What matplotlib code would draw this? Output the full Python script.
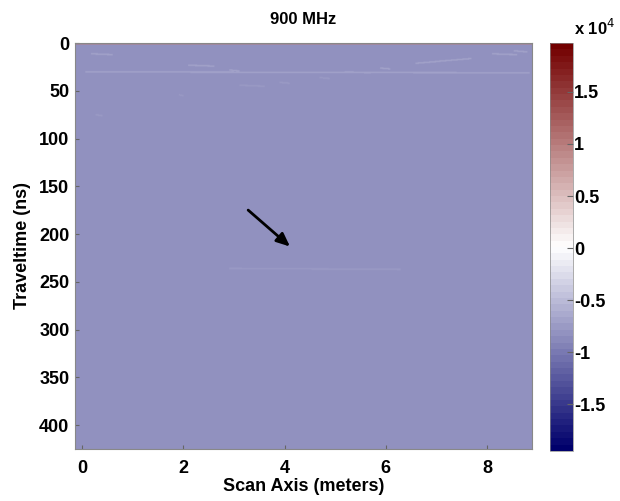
import numpy as np
import matplotlib
matplotlib.use("Agg")
import matplotlib.pyplot as plt
from matplotlib.colors import LinearSegmentedColormap

# ---- data ----
title = "900 MHz"
x_range = [-0.14, 8.89]          # scan axis (meters)
t_range = [0, 425]               # traveltime (ns)
background_value = -0.8e4        # near-uniform amplitude
top_row_value = 1.0e4            # first samples (direct wave)
# faint streaks: (x_start, x_end, t_start, t_end, amplitude)
streaks_x0 = [0.05, 0.16, 2.1, 2.9, 6.6, 8.1, 8.55, 3.1, 3.9, 4.7, 5.2, 5.9, 2.9, 1.9, 0.26]
streaks_x1 = [8.85, 0.6, 2.6, 3.1, 7.7, 8.6, 8.8, 3.6, 4.1, 4.9, 5.7, 6.1, 6.3, 2.0, 0.4]
streaks_t0 = [30, 11, 23, 28, 21, 11, 8, 44, 41, 36, 30, 26, 236, 54, 75]
streaks_t1 = [31, 12, 24, 29, 16, 12, 9, 45, 42, 37, 31, 27, 237, 55, 76]
streaks_val = [-0.68e4, -0.72e4, -0.72e4, -0.72e4, -0.72e4, -0.72e4, -0.72e4,
               -0.73e4, -0.73e4, -0.73e4, -0.72e4, -0.72e4, -0.75e4, -0.74e4, -0.74e4]
clim = [-1.95e4, 1.97e4]
x_ticks = [0, 2, 4, 6, 8]
t_ticks = [0, 50, 100, 150, 200, 250, 300, 350, 400]
cb_ticks = [-1.5e4, -1e4, -0.5e4, 0, 0.5e4, 1e4, 1.5e4]
cb_ticklabels = ["-1.5", "-1", "-0.5", "0", "0.5", "1", "1.5"]
arrow_tail = (3.24, 173)
arrow_head = (4.15, 215)

# ---- build grid ----
nx, nt = 400, 850
xs = np.linspace(x_range[0], x_range[1], nx)
ts = np.linspace(t_range[0], t_range[1], nt)
X, T = np.meshgrid(xs, ts)
grid = np.full((nt, nx), background_value)
grid[T < 1.5] = top_row_value
for x0, x1, ta, tb, v in zip(streaks_x0, streaks_x1, streaks_t0, streaks_t1, streaks_val):
    frac = np.clip((X - x0) / max(x1 - x0, 1e-6), 0, 1)
    tline = ta + (tb - ta) * frac
    mask = (X >= x0) & (X <= x1) & (np.abs(T - tline) < 0.8)
    grid[mask] = v

cmap = LinearSegmentedColormap.from_list(
    "gpr", [(0.0, (0.0, 0.0, 0.42)), (0.5, (1, 1, 1)), (1.0, (0.45, 0.0, 0.0))], N=64)

plt.rcParams['font.family'] = ['Liberation Sans', 'DejaVu Sans']
fig = plt.figure(figsize=(6.2, 5.01), dpi=100)
ax = fig.add_axes([0.121, 0.104, 0.737, 0.810])
cax = fig.add_axes([0.887, 0.100, 0.037, 0.814])

im = ax.imshow(grid, cmap=cmap, vmin=clim[0], vmax=clim[1], aspect='auto',
               extent=[x_range[0], x_range[1], t_range[1], t_range[0]],
               interpolation='bilinear')
ax.set_xlim(x_range)
ax.set_ylim(t_range[1], t_range[0])
ax.set_xticks(x_ticks)
ax.set_yticks(t_ticks)
ax.tick_params(direction='in', length=3, color='#666666', labelsize=13)
ax.tick_params(axis='x', pad=8)
ax.tick_params(axis='y', pad=4)
for lab in ax.get_xticklabels() + ax.get_yticklabels():
    lab.set_fontweight('bold')
for s in ax.spines.values():
    s.set_color('#888888')
    s.set_linewidth(0.8)
ax.set_title(title, fontsize=12, fontweight='bold', pad=14)
ax.set_xlabel("Scan Axis (meters)", fontsize=13, fontweight='bold', labelpad=1)
ax.set_ylabel("Traveltime (ns)", fontsize=13, fontweight='bold', labelpad=6)

ax.annotate("", xy=arrow_head, xytext=arrow_tail,
            arrowprops=dict(arrowstyle='-|>,head_length=0.8,head_width=0.35',
                            color='black', lw=2))

cb = fig.colorbar(im, cax=cax, ticks=cb_ticks)
cb.ax.set_yticklabels(cb_ticklabels)
cb.ax.tick_params(direction='in', length=4, color='#666666', labelsize=13, pad=1)
for lab in cb.ax.get_yticklabels():
    lab.set_fontweight('bold')
cb.outline.set_edgecolor('#888888')
cb.outline.set_linewidth(0.5)
fig.text(0.925, 0.925, r"x 10$^{4}$", fontsize=12, fontweight='bold', ha='left', va='bottom')

fig.savefig("out.png", dpi=100)
